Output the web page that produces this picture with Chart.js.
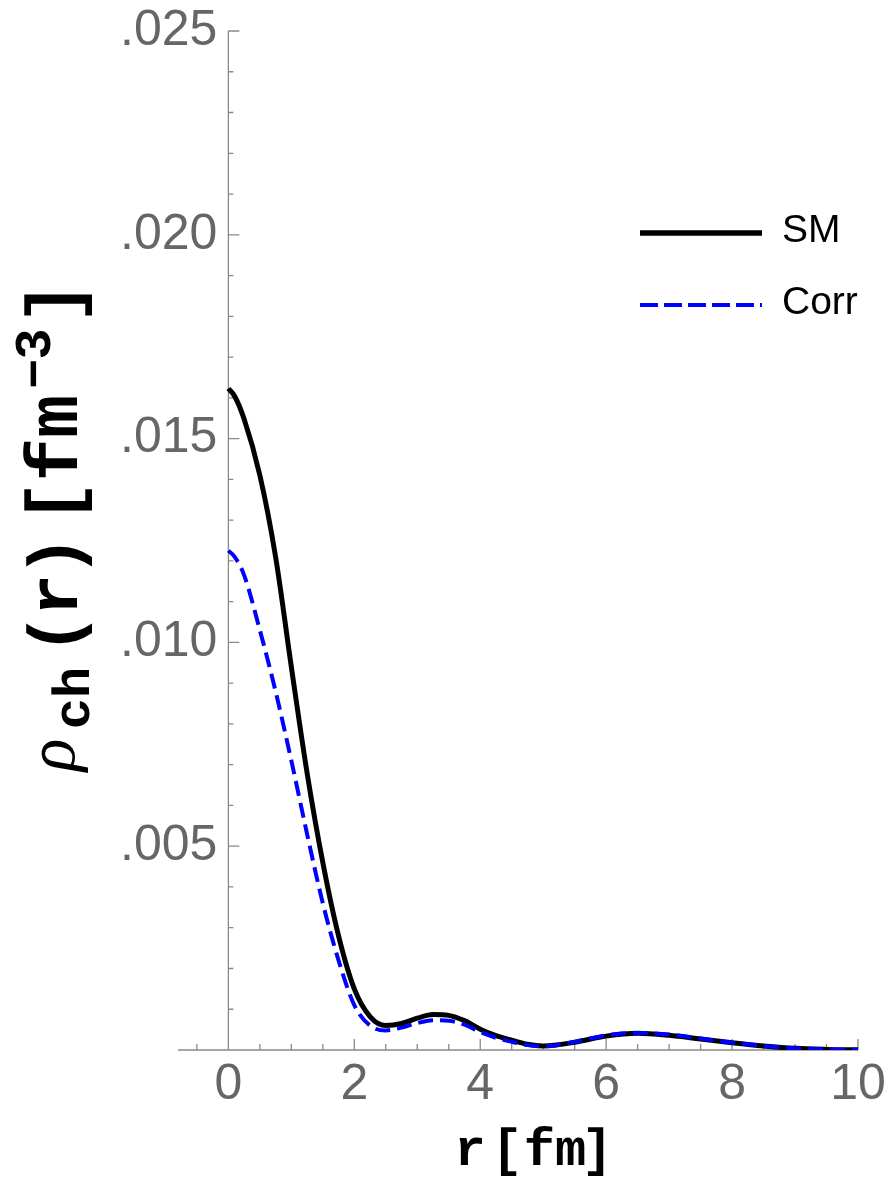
<!DOCTYPE html>
<html>
<head>
<meta charset="UTF-8">
<title>rho_ch(r)</title>
<script src="https://cdn.jsdelivr.net/npm/chart.js"></script>
<style>
  body { margin: 0; background: #ffffff; }
  canvas { display: block; }
</style>
</head>
<body>
<canvas id="grafico" width="891" height="1181"></canvas>
<script>
// valores
const rValues    = [0, 0.1, 0.25, 0.5, 0.75, 1.0, 1.25, 1.5, 1.75, 2.0, 2.25, 2.5, 2.75, 3.0, 3.25, 3.5, 3.75, 4.0, 4.25, 4.5, 4.75, 5.0, 5.5, 6.0, 6.5, 7.0, 7.5, 8.0, 8.5, 9.0, 9.5, 10.0];
const smValues   = [0.01623, 0.01604, 0.01548, 0.0141, 0.0121, 0.0094, 0.0068, 0.0046, 0.0028, 0.0015, 0.00082, 0.00060, 0.00065, 0.00078, 0.00087, 0.00085, 0.00072, 0.00051, 0.00035, 0.00024, 0.00014, 0.00010, 0.00019, 0.00034, 0.00041, 0.00036, 0.00027, 0.00018, 0.00010, 0.00004, 0.000015, 0.000005];
const corrValues = [0.01225, 0.0121, 0.01165, 0.0103, 0.0088, 0.0071, 0.0053, 0.0036, 0.0022, 0.0011, 0.00060, 0.00048, 0.00055, 0.00066, 0.00073, 0.00072, 0.00062, 0.00044, 0.00030, 0.00020, 0.00012, 0.00009, 0.00020, 0.00036, 0.00042, 0.00038, 0.00028, 0.00018, 0.00010, 0.00004, 0.000015, 0.000005];

const seriesNames = ['SM', 'Corr'];
const xTickValues = [0, 2, 4, 6, 8, 10];
const yTickValues = [0.005, 0.010, 0.015, 0.020, 0.025];
const yTickLabels = ['.005', '.010', '.015', '.020', '.025'];

const GRIS_EJE = '#8a8a8a';
const GRIS_TXT = '#666666';
const MONO = '"Liberation Mono"';

function puntos(ys) {
  return rValues.map((r, i) => ({ x: r, y: ys[i] }));
}

// ejes cruzando en el origen, marcas hacia dentro, titulos y leyenda
const ejesMathematica = {
  id: 'ejesMathematica',
  beforeDatasetsDraw(chart) {
    const ctx = chart.ctx;
    const xs = chart.scales.x, ys = chart.scales.y;
    const x0 = xs.getPixelForValue(0);
    const y0 = ys.getPixelForValue(0);
    ctx.save();
    ctx.strokeStyle = GRIS_EJE;
    ctx.lineWidth = 1.3;
    ctx.beginPath();
    ctx.moveTo(chart.chartArea.left, y0);
    ctx.lineTo(xs.getPixelForValue(10), y0);
    ctx.moveTo(x0, y0);
    ctx.lineTo(x0, ys.getPixelForValue(0.025));
    // marcas eje x cada 0.5
    for (let k = -1; k <= 20; k++) {
      const px = xs.getPixelForValue(k * 0.5);
      const largo = (k % 4 === 0) ? 11 : 6;
      ctx.moveTo(px, y0);
      ctx.lineTo(px, y0 - largo);
    }
    // marcas eje y cada 0.001
    for (let k = 1; k <= 25; k++) {
      const py = ys.getPixelForValue(k * 0.001);
      const largo = (k % 5 === 0) ? 11 : 5;
      ctx.moveTo(x0, py);
      ctx.lineTo(x0 + largo, py);
    }
    ctx.stroke();

    // titulo eje x: r [fm]
    ctx.fillStyle = '#000';
    ctx.textAlign = 'center';
    ctx.textBaseline = 'alphabetic';
    ctx.font = 'bold 52px ' + MONO;
    [['r', 470], ['[', 507], ['fm', 555], [']', 597]].forEach(([t, cx]) => ctx.fillText(t, cx, 1165));

    // titulo eje y: rho_ch(r) [fm^-3], girado
    ctx.translate(77, 0);
    ctx.rotate(-Math.PI / 2);
    const piezas = [
      { t: '\u03c1', c: 755, f: 'italic 68px "Liberation Serif"', dy: -3 },
      { t: 'ch', c: 698, f: 'bold 52px ' + MONO, dy: 12 },
      { t: '(', c: 634, f: 'bold 70px ' + MONO, dy: 0 },
      { t: 'r', c: 595, f: 'bold 70px ' + MONO, dy: 0 },
      { t: ')', c: 556, f: 'bold 70px ' + MONO, dy: 0 },
      { t: '[', c: 502, f: 'bold 72px ' + MONO, dy: 0 },
      { t: 'fm', c: 438, f: 'bold 72px ' + MONO, dy: 0 },
      { t: '\u2212', c: 374, f: 'bold 50px ' + MONO, dy: -27 },
      { t: '3', c: 344, f: 'bold 52px ' + MONO, dy: -27 },
      { t: ']', c: 303, f: 'bold 72px ' + MONO, dy: 0 }
    ];
    for (const p of piezas) {
      ctx.font = p.f;
      ctx.fillText(p.t, -p.c, p.dy);
    }
    ctx.restore();
  },
  afterDatasetsDraw(chart) {
    const ctx = chart.ctx;
    ctx.save();
    chart.data.datasets.forEach((ds, i) => {
      const yl = 233 + i * 72;
      const dashed = ds.borderDash.length > 0;
      ctx.strokeStyle = ds.borderColor;
      ctx.lineWidth = dashed ? 4 : 5.5;
      ctx.setLineDash(dashed ? [18, 6] : []);
      ctx.beginPath();
      ctx.moveTo(640, yl);
      ctx.lineTo(762, yl);
      ctx.stroke();
      ctx.setLineDash([]);
      ctx.fillStyle = '#000';
      ctx.font = '39px "Liberation Sans"';
      ctx.textAlign = 'left';
      ctx.textBaseline = 'middle';
      ctx.fillText(ds.label, 782, yl - 2);
    });
    ctx.restore();
  }
};

const ctx = document.getElementById('grafico').getContext('2d');
new Chart(ctx, {
  type: 'line',
  data: {
    datasets: [
      {
        label: seriesNames[0],
        data: puntos(smValues),
        borderColor: '#000000',
        borderWidth: 5,
        borderDash: [],
        pointRadius: 0,
        cubicInterpolationMode: 'monotone',
        fill: false,
        order: 1
      },
      {
        label: seriesNames[1],
        data: puntos(corrValues),
        borderColor: '#0000ff',
        borderWidth: 4,
        borderDash: [15, 7],
        pointRadius: 0,
        cubicInterpolationMode: 'monotone',
        fill: false,
        order: 0
      }
    ]
  },
  options: {
    responsive: false,
    animation: false,
    devicePixelRatio: 1,
    layout: { padding: { left: 128, right: 33, top: 31, bottom: 51 } },
    scales: {
      x: {
        type: 'linear',
        min: -0.8,
        max: 10,
        grid: { display: false, drawTicks: false },
        border: { display: false },
        afterBuildTicks: s => { s.ticks = xTickValues.map(v => ({ value: v })); },
        afterFit: s => { s.height = 80; },
        ticks: {
          font: { family: 'Liberation Sans', size: 50 },
          color: GRIS_TXT,
          padding: 5,
          maxRotation: 0,
          autoSkip: false
        }
      },
      y: {
        type: 'linear',
        min: 0,
        max: 0.025,
        grid: { display: false, drawTicks: false },
        border: { display: false },
        afterBuildTicks: s => { s.ticks = yTickValues.map(v => ({ value: v })); },
        afterFit: s => { s.width = 50; },
        ticks: {
          font: { family: 'Liberation Sans', size: 50 },
          color: GRIS_TXT,
          mirror: true,
          padding: -58,
          autoSkip: false,
          callback: v => yTickLabels[yTickValues.findIndex(t => Math.abs(t - v) < 1e-9)]
        }
      }
    },
    plugins: {
      legend: { display: false },
      tooltip: { enabled: false }
    }
  },
  plugins: [ejesMathematica]
});
</script>
</body>
</html>
